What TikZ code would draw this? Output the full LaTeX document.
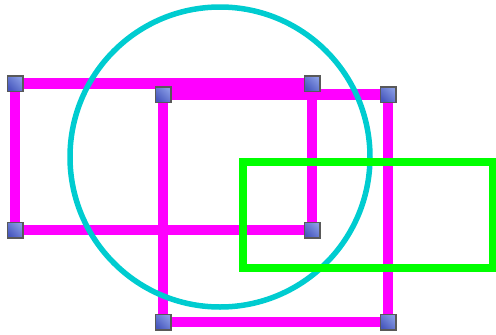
\documentclass[tikz,border=0pt]{standalone}
\usepackage{xcolor}
\usetikzlibrary{positioning}

\definecolor{shapemag}{RGB}{255,0,255}
\definecolor{shapecyan}{RGB}{0,204,208}
\definecolor{shapegreen}{RGB}{0,255,0}
\definecolor{handlelight}{RGB}{135,155,228}
\definecolor{handledark}{RGB}{72,88,190}

\begin{document}
\begin{tikzpicture}[
    x=1pt, y=-1pt,
    magline/.style={draw=shapemag, line width=10.5pt},
    handle/.style={draw=black!65, line width=1.5pt, minimum size=15.5pt, inner sep=0pt,
        top color=handlelight, bottom color=handledark, shading angle=-45},
]
\useasboundingbox (0,0) rectangle (496,335);

% corner handles
\coordinate (a1) at (15,83.5);
\coordinate (a2) at (312,83.5);
\coordinate (a3) at (312,230);
\coordinate (a4) at (15,230);
\coordinate (b1) at (163,94.5);
\coordinate (b2) at (388,94.5);
\coordinate (b3) at (388,322);
\coordinate (b4) at (163,322);

% magenta frames
\draw[magline] (a1) -- (a2) -- (a3) -- (a4) -- cycle;
\draw[magline] (b1) -- (b2) -- (b3) -- (b4) -- cycle;

% circle
\node[draw=shapecyan, line width=5.5pt, circle, minimum size=300pt, inner sep=0pt] (ring) at (220,157) {};

% green box
\node[draw=shapegreen, line width=8pt, minimum width=250pt, minimum height=106pt, inner sep=0pt] (gbox) at (368,215) {};

% handles
\foreach \c in {a1,a2,a3,a4,b1,b2,b3,b4}
    \node[handle] at (\c) {};

\end{tikzpicture}
\end{document}
